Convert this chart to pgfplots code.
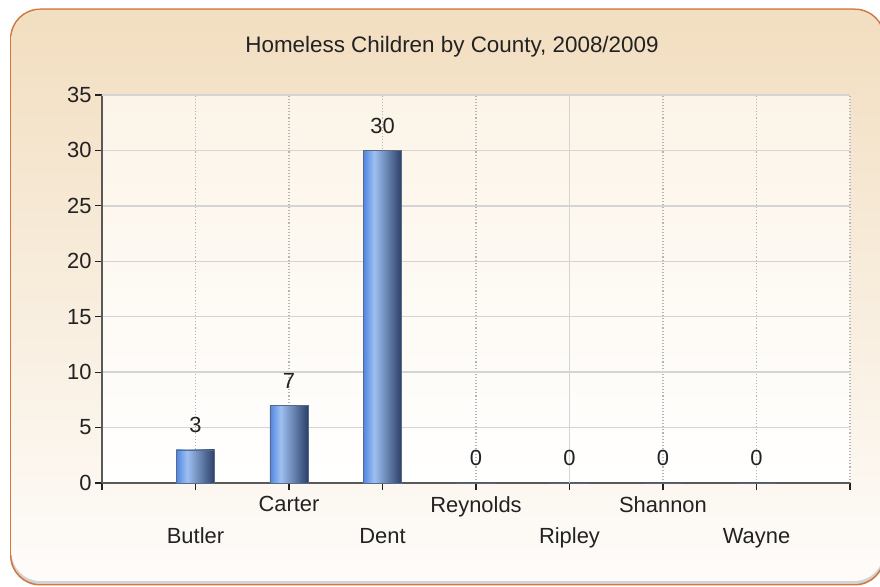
\documentclass[border=0pt]{standalone}
\usepackage{pgfplots}
\pgfplotsset{compat=1.18}
\usepackage{fontspec}
\setmainfont{Liberation Sans}
\definecolor{peach}{HTML}{F2DEC0}
\definecolor{bgbot}{HTML}{FEFCFA}
\definecolor{frame}{HTML}{D2773F}
\definecolor{plottop}{HTML}{FCF4E8}
\definecolor{plotbot}{HTML}{FFFFFF}
\definecolor{gridc}{HTML}{D4D4D4}
\definecolor{b1}{HTML}{4F86E2}
\definecolor{b2}{HTML}{9EC0F2}
\definecolor{b3}{HTML}{2A3F66}
\definecolor{txt}{HTML}{222222}
\definecolor{bedge}{HTML}{5A6A86}
\pgfdeclarehorizontalshading{barshade}{100bp}{color(0bp)=(b1); color(25bp)=(b1); color(39bp)=(b2); color(75bp)=(b3); color(100bp)=(b3)}
\begin{document}
\begin{tikzpicture}[x=1bp,y=1bp]
\useasboundingbox (0,0) rectangle (880,587);
% frame with shadow
\fill[frame] (10,1.5) [rounded corners=30bp] rectangle (885,578.5);
\fill[gray!35] (11.5,3) [rounded corners=29bp] rectangle (883.5,577);
\shade[top color=peach, bottom color=bgbot] (11.5,6) [rounded corners=29bp] rectangle (883.5,577);
\node[font=\fontsize{22.5}{26}\selectfont, text=txt] at (452,540) {Homeless Children by County, 2008/2009};
\begin{axis}[
  at={(102bp,104bp)}, anchor=south west,
  scale only axis, width=748bp, height=388bp,
  xmin=-1, xmax=7, ymin=0, ymax=35,
  axis background/.style={top color=plottop, bottom color=plotbot},
  axis lines=left,
  axis line style={-, draw=gray!70!black, line width=1.3pt},
  xtick={-1,0,1,2,3,4,5,6,7},
  xticklabels={,{\vphantom{C}\\Butler},Carter,{\vphantom{C}\\Dent},Reynolds,{\vphantom{C}\\Ripley},Shannon,{\vphantom{C}\\Wayne},},
  ytick={0,5,...,35},
  tick align=outside,
  major tick length=7bp,
  tick style={draw=txt, line width=1.1pt},
  ymajorgrids, xmajorgrids,
  y grid style={draw=gridc, line width=1.4pt},
  x grid style={draw=gridc!85!black, line width=1.1pt, dotted},
  xticklabel style={font=\fontsize{22}{32}\selectfont, text=txt, align=center, anchor=north, yshift=-3bp},
  yticklabel style={font=\fontsize{22}{26}\selectfont, text=txt},
  /pgf/number format/assume math mode=true,
  clip=false,
  ybar, bar width=0.41, bar shift=0pt,
  mybar/.style={ybar, shading=barshade, draw=bedge, line width=0.4pt,
    nodes near coords,
    every node near coord/.append style={font=\fontsize{22}{26}\selectfont, text=txt, anchor=south, inner sep=0pt, yshift=17bp}},
]
\draw[gridc, line width=1.2pt] (axis cs:4,0) -- (axis cs:4,35);
\draw[gridc, line width=1.4pt] (axis cs:-1,35) -- (axis cs:7,35);
\addplot[mybar] coordinates {(0,3)};
\addplot[mybar] coordinates {(1,7)};
\addplot[mybar] coordinates {(2,30)};
\addplot[mybar] coordinates {(3,0)};
\addplot[mybar] coordinates {(4,0)};
\addplot[mybar] coordinates {(5,0)};
\addplot[mybar] coordinates {(6,0)};
\end{axis}
\end{tikzpicture}
\end{document}
